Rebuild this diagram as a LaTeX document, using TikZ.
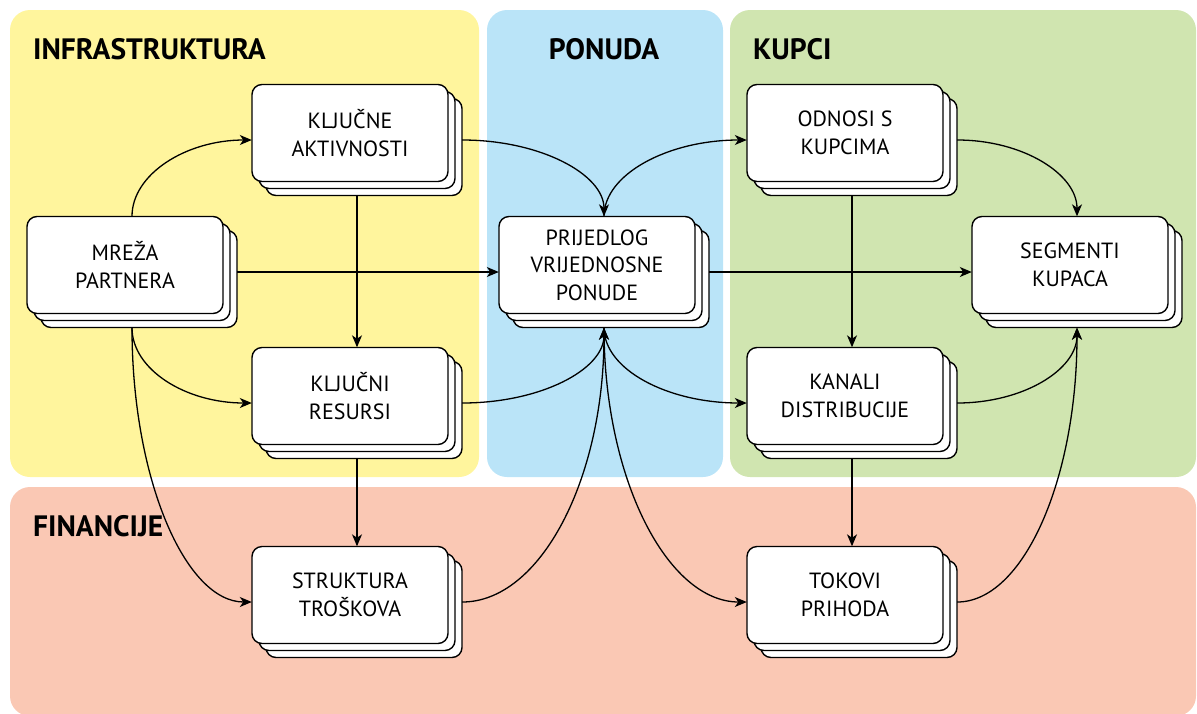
\documentclass[tikz,border=0pt]{standalone}
\usepackage{fontspec}
\setmainfont{PT Sans}
\usetikzlibrary{arrows.meta,shadows,calc}
\definecolor{infra}{RGB}{255,245,157}
\definecolor{ponuda}{RGB}{186,228,248}
\definecolor{kupci}{RGB}{208,229,176}
\definecolor{financ}{RGB}{250,200,180}
\begin{document}
\begin{tikzpicture}[x=1pt,y=1pt,
  region/.style={rounded corners=20pt},
  title/.style={font=\bfseries\fontsize{29.5}{32}\selectfont, anchor=base west, inner sep=0pt},
  card/.style={draw=black, line width=1.4pt, fill=white, rounded corners=10pt,
    minimum width=196pt, minimum height=97pt, align=center, inner sep=0pt,
    font=\fontsize{22}{27.5}\selectfont,
    copy shadow={shadow xshift=14pt, shadow yshift=-14pt, draw=black, fill=white, line width=1.4pt},
    copy shadow={shadow xshift=7pt, shadow yshift=-7pt, draw=black, fill=white, line width=1.4pt}},
  stackbox/.style={minimum width=210pt, minimum height=111pt, inner sep=0pt, draw=none},
  link/.style={line width=1.3pt, -{Stealth[length=12pt,width=10pt,inset=3.5pt]}}
]
\useasboundingbox (0,0) rectangle (1197,-713);
% regions
\fill[infra, region] (10,-10) rectangle (479,-477);
\fill[ponuda, region] (487,-10) rectangle (723,-477);
\fill[kupci, region] (730,-10) rectangle (1196,-477);
\fill[financ, region] (10,-487) rectangle (1196,-716);
% titles
\node[title] (t1) at (33,-59) {INFRASTRUKTURA};
\node[title, anchor=base] (t2) at (604,-59) {PONUDA};
\node[title] (t3) at (753,-59) {KUPCI};
\node[title] (t4) at (33,-536) {FINANCIJE};
% cards
\node[card] (kac) at (350,-133) {KLJUČNE\\AKTIVNOSTI};
\node[card] (mpc) at (125,-265) {MREŽA\\PARTNERA};
\node[card] (prc) at (597,-265) {PRIJEDLOG\\VRIJEDNOSNE\\PONUDE};
\node[card] (krc) at (350,-396) {KLJUČNI\\RESURSI};
\node[card] (stc) at (350,-595) {STRUKTURA\\TROŠKOVA};
\node[card] (okc) at (845,-133) {ODNOSI S\\KUPCIMA};
\node[card] (skc) at (1070,-265) {SEGMENTI\\KUPACA};
\node[card] (kdc) at (845,-396) {KANALI\\DISTRIBUCIJE};
\node[card] (tpc) at (845,-595) {TOKOVI\\PRIHODA};
% stack outlines (invisible, for connectors)
\foreach \n in {ka,mp,pr,kr,st,ok,sk,kd,tp}
  \node[stackbox] (\n) at ($(\n c)+(7,-7)$) {};
% connectors
\draw[link] (mp.north) .. controls +(0,42) and +(-66,0) .. (ka.west);
\draw[link] (mp.east) -- (pr.west);
\draw[link] (mp.south) .. controls +(0,-42) and +(-66,0) .. (kr.west);
\draw[link] (mp.south) .. controls +(0,-152) and +(-66,0) .. (st.west);
\draw[link] (ka.south) -- (kr.north);
\draw[link] (kr.south) -- (st.north);
\draw[link] (ka.east) .. controls +(78,0) and +(0,42) .. (pr.north);
\draw[link] (pr.north) .. controls +(0,42) and +(-79,0) .. (ok.west);
\draw[link] (kr.east) .. controls +(78,0) and +(0,-42) .. (pr.south);
\draw[link] (st.east) .. controls +(78,0) and +(0,-152) .. (pr.south);
\draw[link] (pr.south) .. controls +(0,-42) and +(-79,0) .. (kd.west);
\draw[link] (pr.south) .. controls +(0,-152) and +(-79,0) .. (tp.west);
\draw[link] (pr.east) -- (sk.west);
\draw[link] (ok.east) .. controls +(66,0) and +(0,42) .. (sk.north);
\draw[link] (ok.south) -- (kd.north);
\draw[link] (kd.south) -- (tp.north);
\draw[link] (kd.east) .. controls +(66,0) and +(0,-42) .. (sk.south);
\draw[link] (tp.east) .. controls +(66,0) and +(0,-152) .. (sk.south);
\end{tikzpicture}
\end{document}
